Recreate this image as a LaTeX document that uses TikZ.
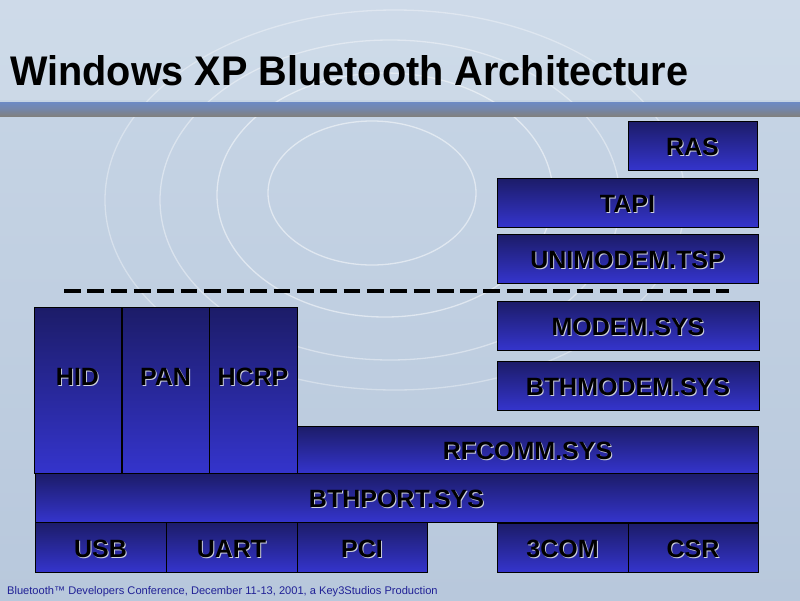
\documentclass[tikz,border=0pt]{standalone}
\usepackage{fontspec}
\setmainfont{Liberation Sans}
\definecolor{bgtop}{RGB}{200,214,230}
\definecolor{bgbot}{RGB}{184,200,220}
\definecolor{boxtop}{RGB}{28,28,104}
\definecolor{boxbot}{RGB}{52,52,204}
\definecolor{barblue}{RGB}{108,138,196}
\definecolor{bargray}{RGB}{128,128,128}
\definecolor{footblue}{RGB}{32,32,150}
\definecolor{shadowcol}{RGB}{205,208,222}
\newcommand\shlab[1]{\leavevmode\rlap{\kern1pt\raisebox{-1pt}{\textcolor{shadowcol}{#1}}}\textcolor{black}{#1}}
\tikzset{
  layer/.style={draw=black, line width=0.9pt, top color=boxtop, bottom color=boxbot,
    rectangle, inner sep=0pt, outer sep=0pt, font=\fontsize{25}{25}\selectfont\bfseries,
    text height=20pt, text depth=0pt},
  tall/.style={text depth=30pt},
  ring/.style={draw=white, opacity=0.5, line width=1.3pt},
  sepline/.style={draw=black, line width=3.8pt, dash pattern=on 16.7pt off 6.6pt}
}
\begin{document}
\begin{tikzpicture}[x=1pt,y=-1pt]
\useasboundingbox (0,0) rectangle (800,600);
% background
\fill[top color=bgtop, bottom color=bgbot] (0,0) rectangle (800,600);
\fill[white, opacity=0.12] (0,0) rectangle (800,100);
\draw[ring] (372,193) ellipse [x radius=104, y radius=72];
\draw[ring] (385,195) ellipse [x radius=168, y radius=122];
\draw[ring, opacity=0.4] (390,200) ellipse [x radius=230, y radius=160];
\draw[ring, opacity=0.35] (395,200) ellipse [x radius=290, y radius=190];
% title bars
\fill[top color=barblue, bottom color=bargray, middle color=barblue!60!bargray] (0,102) rectangle (800,116);
% title
\node[anchor=base west, inner sep=0pt] (title) at (10,85)
  {\resizebox{678pt}{30pt}{\bfseries Windows XP Bluetooth Architecture}};
% right stack
\node[layer, minimum width=129pt, minimum height=49pt] (ras) at (692.5,145.5) {\shlab{RAS}};
\node[layer, minimum width=261pt, minimum height=49pt] (tapi) at (627.5,202.5) {\shlab{TAPI}};
\node[layer, minimum width=261pt, minimum height=49pt] (unimodem) at (627.5,258.5) {\shlab{UNIMODEM.TSP}};
% separator
\coordinate (sepL) at (64,291);
\coordinate (sepR) at (729,291);
\draw[sepline] (sepL) -- (sepR);
\node[layer, minimum width=262pt, minimum height=49pt] (modem) at (628,325.5) {\shlab{MODEM.SYS}};
\node[layer, minimum width=262pt, minimum height=49pt] (bthmodem) at (628,385.5) {\shlab{BTHMODEM.SYS}};
% profiles
\node[layer, tall, minimum width=87pt, minimum height=166pt] (hid) at (77.5,390) {\shlab{HID}};
\node[layer, tall, minimum width=87pt, minimum height=166pt] (pan) at (165.5,390) {\shlab{PAN}};
\node[layer, tall, minimum width=88pt, minimum height=166pt] (hcrp) at (253,390) {\shlab{HCRP}};
\node[layer, minimum width=461pt, minimum height=47pt] (rfcomm) at (527.5,449.5) {\shlab{RFCOMM.SYS}};
\node[layer, minimum width=723pt, minimum height=49pt] (bthport) at (396.5,497.5) {\shlab{BTHPORT.SYS}};
% transports
\node[layer, minimum width=131pt, minimum height=50pt] (usb) at (100.5,547) {\shlab{USB}};
\node[layer, minimum width=131pt, minimum height=50pt] (uart) at (231.5,547) {\shlab{UART}};
\node[layer, minimum width=130pt, minimum height=50pt] (pci) at (362,547) {\shlab{PCI}};
\node[layer, minimum width=131pt, minimum height=49pt] (threecom) at (562.5,547.5) {\shlab{3COM}};
\node[layer, minimum width=130pt, minimum height=49pt] (csr) at (693,547.5) {\shlab{CSR}};
% footer
\node[anchor=base west, inner sep=0pt, text=footblue] (footer) at (7,594)
  {\fontsize{11.1}{11}\selectfont Bluetooth\texttrademark\ Developers Conference, December 11-13, 2001, a Key3Studios Production};
\end{tikzpicture}
\end{document}
